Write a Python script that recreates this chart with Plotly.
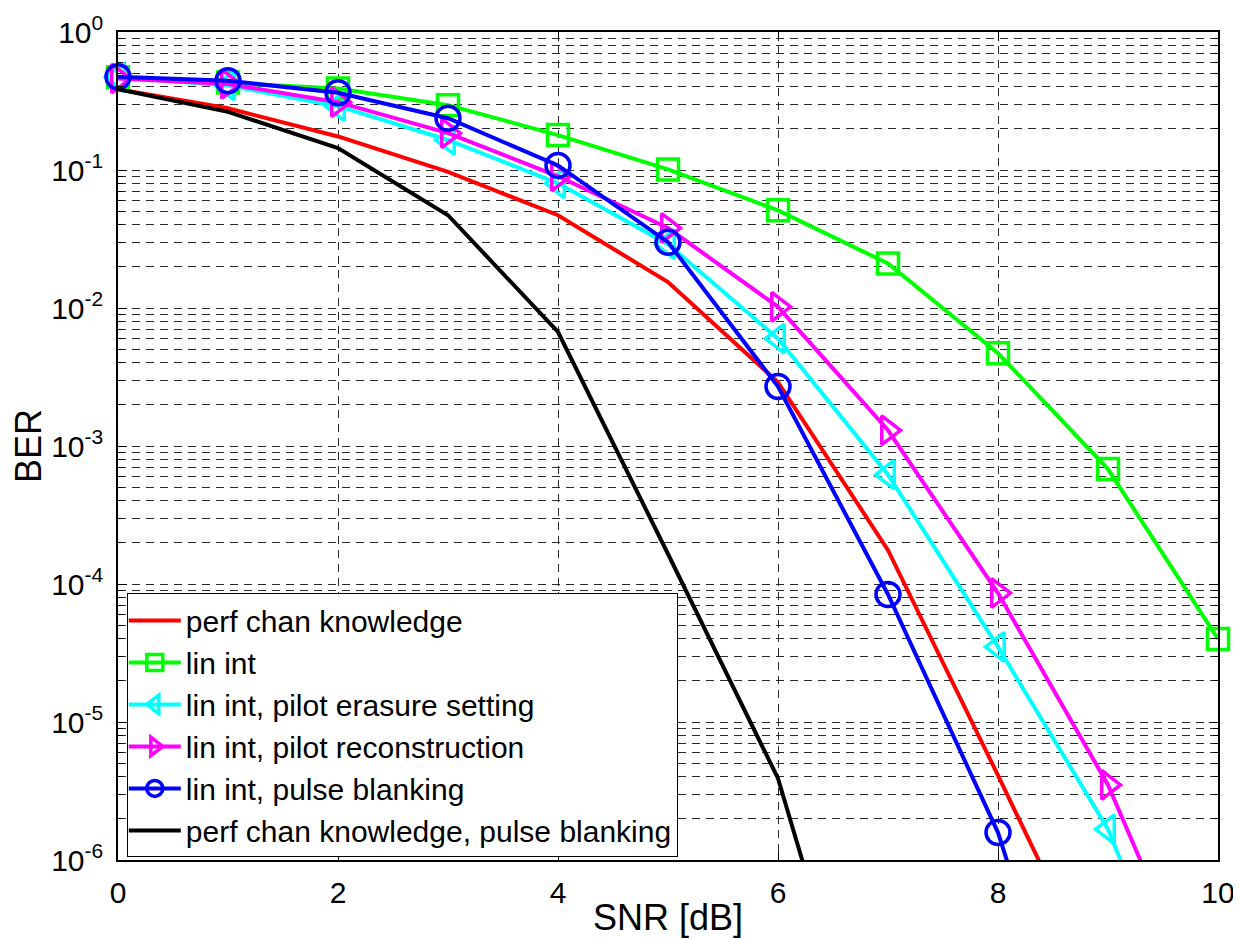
import plotly.graph_objects as go

snr = [0, 1, 2, 3, 4, 5, 6, 7, 8, 9, 10]

ber_perf = [0.385, 0.28, 0.175, 0.097, 0.047, 0.0154, 0.0029, 1.76e-4, 4.1e-6, 9e-8]
ber_lin = [0.47, 0.43, 0.39, 0.295, 0.179, 0.101, 0.051, 0.021, 0.0047, 6.8e-4, 4.0e-5]
ber_erasure = [0.47, 0.41, 0.29, 0.165, 0.080, 0.029, 0.006, 6.2e-4, 3.5e-5, 1.67e-6, 1.8e-8]
ber_recon = [0.46, 0.42, 0.31, 0.185, 0.090, 0.038, 0.0102, 0.0013, 8.6e-5, 3.5e-6, 4.9e-8]
ber_blank = [0.474, 0.443, 0.363, 0.237, 0.108, 0.030, 0.0027, 8.4e-5, 1.58e-6, 5e-9]
ber_perf_blank = [0.385, 0.264, 0.144, 0.047, 0.0067, 1.65e-4, 3.9e-6, 8e-9]

ytick_vals = [1e-6, 1e-5, 1e-4, 1e-3, 1e-2, 1e-1, 1e0]
ytick_text = ["10<sup>-6</sup>", "10<sup>-5</sup>", "10<sup>-4</sup>", "10<sup>-3</sup>",
              "10<sup>-2</sup>", "10<sup>-1</sup>", "10<sup>0</sup>"]
yminor_vals = [m * 10.0 ** e for e in range(-6, 0) for m in range(2, 10)]
xtick_vals = [0, 2, 4, 6, 8, 10]

FONT = "Liberation Sans, Arial, sans-serif"
LW = 4

series = [
    ("perf chan knowledge", ber_perf, "#FF0000", None),
    ("lin int", ber_lin, "#00FF00", "square-open"),
    ("lin int, pilot erasure setting", ber_erasure, "#00FFFF", "triangle-left-open"),
    ("lin int, pilot reconstruction", ber_recon, "#FF00FF", "triangle-right-open"),
    ("lin int, pulse blanking", ber_blank, "#0000FF", "circle-open"),
    ("perf chan knowledge, pulse blanking", ber_perf_blank, "#000000", None),
]
sizes = {"square-open": 21, "triangle-left-open": 25, "triangle-right-open": 25, "circle-open": 24}

fig = go.Figure()
for name, vals, color, sym in series:
    xs = snr[:len(vals)]
    if sym is None:
        fig.add_trace(go.Scatter(x=xs, y=vals, name=name, mode="lines",
                                 line=dict(color=color, width=LW)))
    else:
        fig.add_trace(go.Scatter(x=xs, y=vals, name=name, mode="lines+markers",
                                 line=dict(color=color, width=LW),
                                 marker=dict(symbol=sym, size=sizes[sym], color=color,
                                             line=dict(color=color, width=3.5)),
                                 cliponaxis=False))

gridc = "rgba(20,20,20,0.9)"
dash = "8px,6px"
# the page body has an 8px margin, so the figure is drawn 8px in from the corner
fig.update_layout(
    width=1233, height=932,
    margin=dict(l=110, r=23, t=24, b=80, autoexpand=False),
    paper_bgcolor="white", plot_bgcolor="white",
    font=dict(family=FONT, size=30, color="black"),
    showlegend=True,
    legend=dict(x=0.008, y=0.322, xanchor="left", yanchor="top",
                bgcolor="white", bordercolor="black", borderwidth=1,
                font=dict(family=FONT, size=30, color="black"),
                itemwidth=52, tracegroupgap=0, indentation=-4),
    xaxis=dict(range=[0, 10], tickmode="array", tickvals=xtick_vals, automargin=False,
               showline=True, linecolor="black", linewidth=1.5, mirror="ticks",
               ticks="inside", ticklen=9, tickcolor="black", ticklabelstandoff=5,
               showgrid=True, gridcolor=gridc, gridwidth=1, griddash=dash,
               zeroline=False,
               tickfont=dict(family=FONT, size=30)),
    yaxis=dict(type="log", range=[-6, 0], tickmode="array", tickvals=ytick_vals,
               ticktext=ytick_text, automargin=False,
               showline=True, linecolor="black", linewidth=1.5, mirror="ticks",
               ticks="inside", ticklen=9, tickcolor="black", ticklabelstandoff=7,
               showgrid=True, gridcolor=gridc, gridwidth=1, griddash=dash,
               zeroline=False,
               tickfont=dict(family=FONT, size=30),
               minor=dict(tickmode="array", tickvals=yminor_vals, ticks="inside", ticklen=5,
                          tickcolor="black", showgrid=True, gridcolor=gridc,
                          gridwidth=1, griddash=dash)),
    annotations=[
        dict(text="SNR [dB]", xref="paper", yref="paper", x=0.5, y=-0.070,
             xanchor="center", yanchor="middle", showarrow=False,
             font=dict(family=FONT, size=36, color="black")),
        dict(text="BER", xref="paper", yref="paper", x=-0.0818, y=0.5,
             xanchor="center", yanchor="middle", showarrow=False, textangle=-90,
             font=dict(family=FONT, size=36, color="black")),
    ],
)

fig.write_html("out.html")
